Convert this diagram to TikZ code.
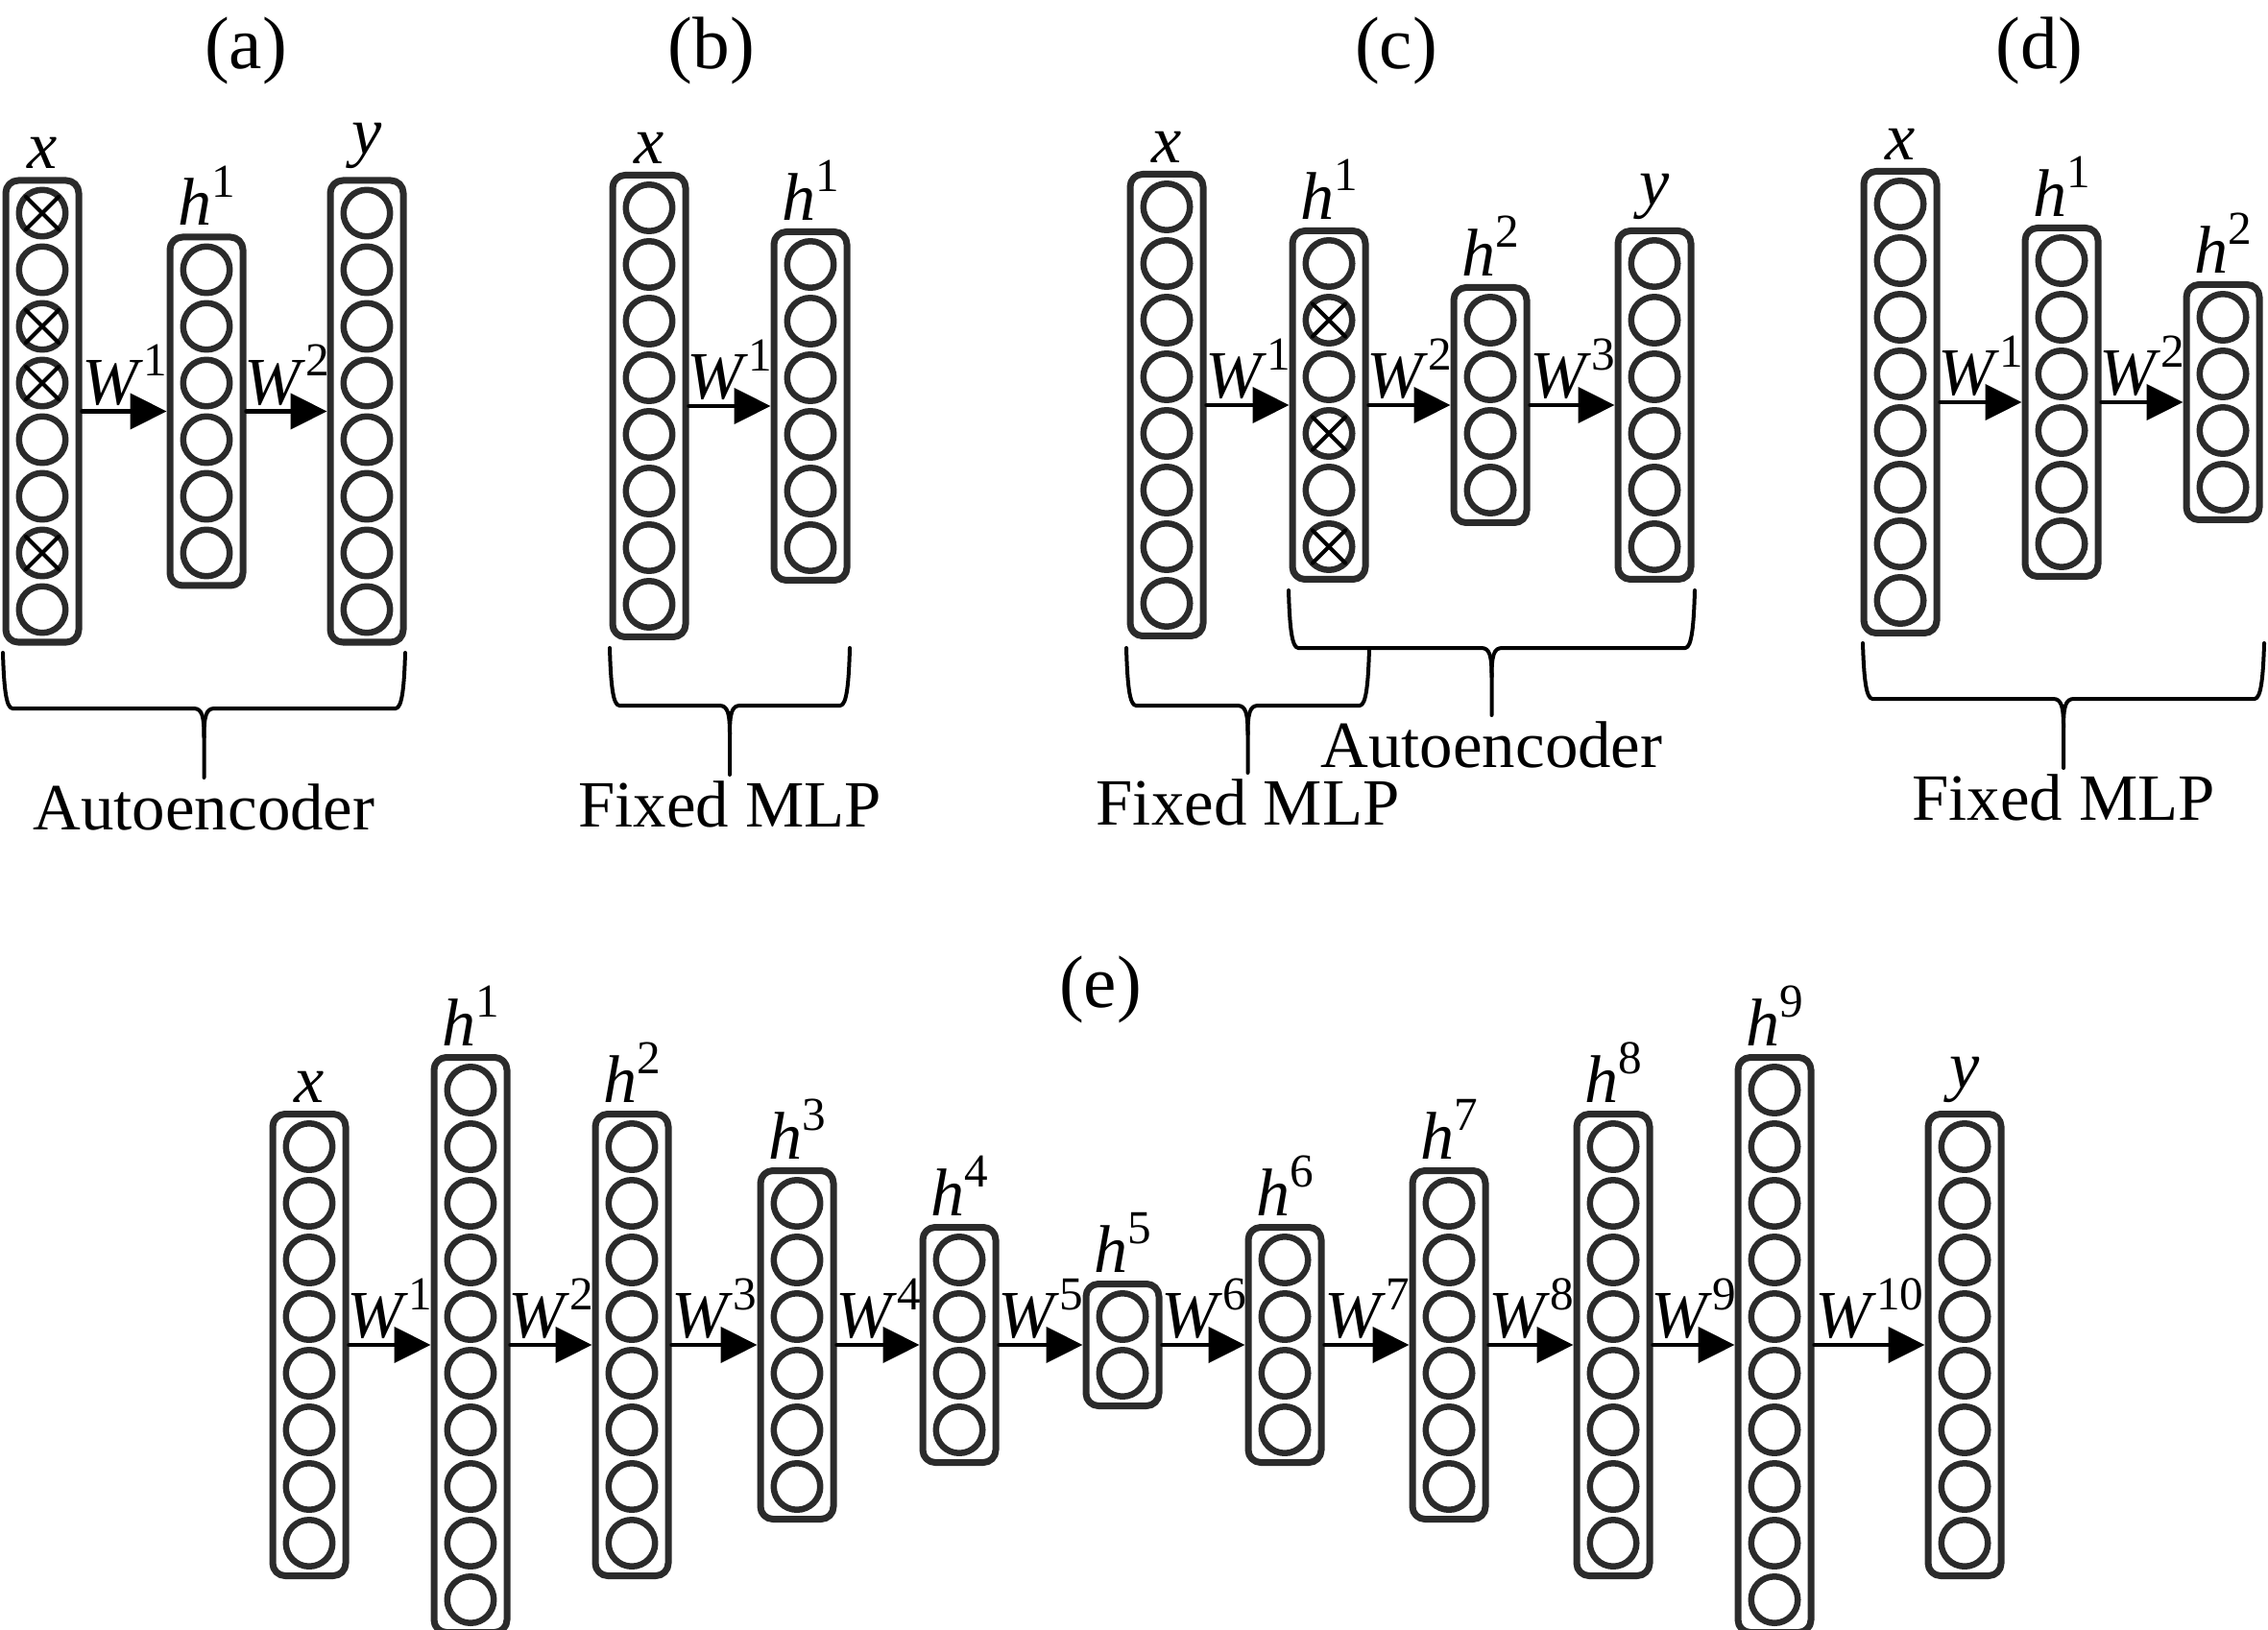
\documentclass[tikz,border=0pt]{standalone}
\usepackage{fontspec}
\setmainfont{Liberation Serif}
\usetikzlibrary{positioning,arrows.meta}
\definecolor{unitgray}{HTML}{2B2B2B}

% symbol with a superscript index
\newcommand{\sym}[2]{\textit{#1}\raisebox{0.42em}{\fontsize{14}{14}\selectfont #2}}
% one layer: name, x, y of centre, number of units, label
\newcommand{\layer}[5]{%
  \pgfmathsetmacro{\lh}{(#4-1)*0.59+0.68}
  \node[layer, minimum height=\lh cm] (#1) at (#2,#3) {};
  \foreach \k in {1,...,#4}{
    \pgfmathsetmacro{\dy}{#3+((#4+1)/2-\k)*0.59}
    \node[unit] (#1-\k) at (#2,\dy) {};
  }
  \node[lab, above=0.05cm of #1] (#1-lab) {#5};
}
% dropped unit
\newcommand{\crossunit}[1]{%
  \draw[xline] (#1.north west) -- (#1.south east) (#1.north east) -- (#1.south west);
}
% brace: name, left, right, top, bar, tip, text
\newcommand{\bracelab}[7]{%
  \pgfmathsetmacro{\xc}{(#2+#3)/2}
  \coordinate (#1) at (\xc,#6);
  \draw[brc] (#2,#4) .. controls ({#2+0.01},{#5+0.25}) and ({#2+0.03},#5) .. ({#2+0.1},#5)
    -- ({\xc-0.11},#5) .. controls ({\xc-0.02},#5) and (\xc,{#5-0.08}) .. (\xc,{#5-0.3}) -- (#1);
  \draw[brc] (#3,#4) .. controls ({#3-0.01},{#5+0.25}) and ({#3-0.03},#5) .. ({#3-0.1},#5)
    -- ({\xc+0.11},#5) .. controls ({\xc+0.02},#5) and (\xc,{#5-0.08}) .. (\xc,{#5-0.3});
  \node[brtext, below=0cm of #1] (#1-lab) {#7};
}

\begin{document}
\begin{tikzpicture}[
  line cap=round,
  line join=round,
  layer/.style={draw=unitgray, line width=0.07cm, rounded corners=0.13cm, minimum width=0.76cm, inner sep=0},
  unit/.style={circle, draw=unitgray, line width=0.065cm, minimum size=0.485cm, inner sep=0, outer sep=0},
  xline/.style={line width=0.04cm},
  conn/.style={-{Triangle[length=0.38cm,width=0.37cm]}, line width=0.045cm},
  brc/.style={line width=0.04cm},
  lab/.style={font=\fontsize{20}{24}\selectfont, inner sep=0.03cm},
  wlab/.style={font=\fontsize{20}{24}\selectfont, inner sep=0.04cm, above},
  brtext/.style={font=\fontsize{19.6}{24}\selectfont, inner sep=0.06cm},
  ttl/.style={font=\fontsize{22}{26}\selectfont, inner sep=0}
  ]
  \useasboundingbox (0,0) rectangle (23.62,-16.98);

  % (a)
  \node[ttl] (ta) at (2.56,-0.53) {(a)};
  \layer{a-x}{0.44}{-4.285}{8}{\textit{x}}
  \layer{a-h1}{2.15}{-4.285}{6}{\sym{h}{1}}
  \layer{a-y}{3.82}{-4.285}{8}{\textit{y}}
  \foreach \k in {1,3,4,7}{\crossunit{a-x-\k}}
  \draw[conn] (a-x) -- node[wlab] (a-w1) {\sym{W}{1}} (a-h1);
  \draw[conn] (a-h1) -- node[wlab] (a-w2) {\sym{W}{2}} (a-y);
  \bracelab{a-br}{0.03}{4.22}{-6.80}{-7.38}{-8.10}{Autoencoder}

  % (b)
  \node[ttl] (tb) at (7.41,-0.53) {(b)};
  \layer{b-x}{6.76}{-4.23}{8}{\textit{x}}
  \layer{b-h1}{8.44}{-4.23}{6}{\sym{h}{1}}
  \draw[conn] (b-x) -- node[wlab] (b-w1) {\sym{W}{1}} (b-h1);
  \bracelab{b-br}{6.35}{8.85}{-6.75}{-7.35}{-8.07}{Fixed MLP}

  % (c)
  \node[ttl] (tc) at (14.54,-0.53) {(c)};
  \layer{c-x}{12.15}{-4.22}{8}{\textit{x}}
  \layer{c-h1}{13.84}{-4.22}{6}{\sym{h}{1}}
  \layer{c-h2}{15.52}{-4.22}{4}{\sym{h}{2}}
  \layer{c-y}{17.23}{-4.22}{6}{\textit{y}}
  \foreach \k in {2,4,6}{\crossunit{c-h1-\k}}
  \draw[conn] (c-x) -- node[wlab] (c-w1) {\sym{W}{1}} (c-h1);
  \draw[conn] (c-h1) -- node[wlab] (c-w2) {\sym{W}{2}} (c-h2);
  \draw[conn] (c-h2) -- node[wlab] (c-w3) {\sym{W}{3}} (c-y);
  \bracelab{c-ae}{13.42}{17.65}{-6.15}{-6.75}{-7.45}{Autoencoder}
  \bracelab{c-br}{11.73}{14.26}{-6.75}{-7.35}{-8.05}{Fixed MLP}

  % (d)
  \node[ttl] (td) at (21.24,-0.53) {(d)};
  \layer{d-x}{19.79}{-4.19}{8}{\textit{x}}
  \layer{d-h1}{21.47}{-4.19}{6}{\sym{h}{1}}
  \layer{d-h2}{23.15}{-4.19}{4}{\sym{h}{2}}
  \draw[conn] (d-x) -- node[wlab] (d-w1) {\sym{W}{1}} (d-h1);
  \draw[conn] (d-h1) -- node[wlab] (d-w2) {\sym{W}{2}} (d-h2);
  \bracelab{d-br}{19.40}{23.58}{-6.70}{-7.28}{-8.00}{Fixed MLP}

  % (e)
  \node[ttl] (te) at (11.46,-10.31) {(e)};
  \layer{e-x}{3.22}{-14.01}{8}{\textit{x}}
  \layer{e-h1}{4.90}{-14.01}{10}{\sym{h}{1}}
  \layer{e-h2}{6.58}{-14.01}{8}{\sym{h}{2}}
  \layer{e-h3}{8.30}{-14.01}{6}{\sym{h}{3}}
  \layer{e-h4}{9.99}{-14.01}{4}{\sym{h}{4}}
  \layer{e-h5}{11.69}{-14.01}{2}{\sym{h}{5}}
  \layer{e-h6}{13.38}{-14.01}{4}{\sym{h}{6}}
  \layer{e-h7}{15.09}{-14.01}{6}{\sym{h}{7}}
  \layer{e-h8}{16.80}{-14.01}{8}{\sym{h}{8}}
  \layer{e-h9}{18.48}{-14.01}{10}{\sym{h}{9}}
  \layer{e-y}{20.46}{-14.01}{8}{\textit{y}}
  \draw[conn] (e-x) -- node[wlab] (e-w1) {\sym{W}{1}} (e-h1);
  \draw[conn] (e-h1) -- node[wlab] (e-w2) {\sym{W}{2}} (e-h2);
  \draw[conn] (e-h2) -- node[wlab] (e-w3) {\sym{W}{3}} (e-h3);
  \draw[conn] (e-h3) -- node[wlab] (e-w4) {\sym{W}{4}} (e-h4);
  \draw[conn] (e-h4) -- node[wlab] (e-w5) {\sym{W}{5}} (e-h5);
  \draw[conn] (e-h5) -- node[wlab] (e-w6) {\sym{W}{6}} (e-h6);
  \draw[conn] (e-h6) -- node[wlab] (e-w7) {\sym{W}{7}} (e-h7);
  \draw[conn] (e-h7) -- node[wlab] (e-w8) {\sym{W}{8}} (e-h8);
  \draw[conn] (e-h8) -- node[wlab] (e-w9) {\sym{W}{9}} (e-h9);
  \draw[conn] (e-h9) -- node[wlab] (e-w10) {\sym{W}{10}} (e-y);
\end{tikzpicture}
\end{document}
